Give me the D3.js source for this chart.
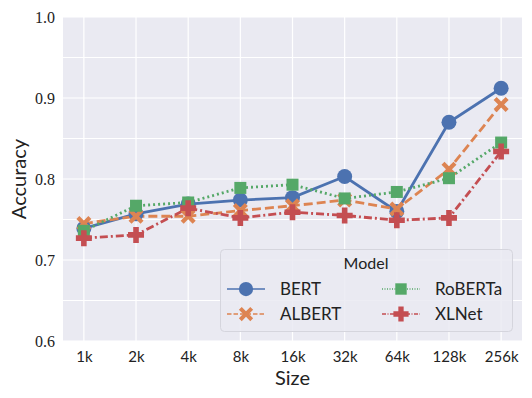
<!DOCTYPE html>
<html lang="en">
  <head>
    <meta charset="UTF-8">
    <title>Accuracy by size</title>
    <style>
      body { margin: 0; background: #fff; }
      svg text { fill: #222; }
      .xtick { font-family: Lato, sans-serif; font-size: 15px; }
      .ytick { font-family: 'Liberation Serif', serif; font-size: 16px; }
      .label { font-family: Lato, sans-serif; font-size: 20px; }
      .legend { font-family: Lato, sans-serif; font-size: 17px; }
    </style>
  </head>
  <body>
    <div id="chart"></div>
    <script src="https://cdnjs.cloudflare.com/ajax/libs/d3/7.8.5/d3.min.js"></script>
    <script>
      const sizes = ['1k', '2k', '4k', '8k', '16k', '32k', '64k', '128k', '256k'];
      const bert = [0.739, 0.757, 0.769, 0.774, 0.777, 0.803, 0.760, 0.870, 0.912];
      const albert = [0.745, 0.754, 0.754, 0.761, 0.767, 0.774, 0.763, 0.812, 0.892];
      const roberta = [0.736, 0.767, 0.771, 0.789, 0.793, 0.776, 0.784, 0.801, 0.845];
      const xlnet = [0.727, 0.731, 0.764, 0.752, 0.759, 0.755, 0.749, 0.752, 0.834];
      const yTicks = [0.6, 0.7, 0.8, 0.9, 1.0];
      const yGrid = [0.6, 0.65, 0.7, 0.75, 0.8, 0.85, 0.9, 0.95, 1.0];

      const series = [
        {name: 'BERT', values: bert, color: '#4c72b0', dash: null, marker: 'circle'},
        {name: 'ALBERT', values: albert, color: '#dd8452', dash: '9,4', marker: 'x'},
        {name: 'RoBERTa', values: roberta, color: '#55a868', dash: '2,3', marker: 'square'},
        {name: 'XLNet', values: xlnet, color: '#c44e52', dash: '8,3,2,3', marker: 'plus'}
      ];

      const width = 532, height = 398;
      const plot = {left: 63, right: 522, top: 17, bottom: 341};

      const svg = d3.select('#chart').append('svg')
        .attr('width', width)
        .attr('height', height);

      const x = d3.scaleLinear().domain([-0.4, sizes.length - 1 + 0.4]).range([plot.left, plot.right]);
      const y = d3.scaleLinear().domain([0.6, 1.0]).range([plot.bottom, plot.top]);

      svg.append('rect')
        .attr('x', plot.left).attr('y', plot.top)
        .attr('width', plot.right - plot.left).attr('height', plot.bottom - plot.top)
        .attr('fill', '#eaeaf2');

      // grid
      svg.append('g').selectAll('line').data(yGrid).join('line')
        .attr('x1', plot.left).attr('x2', plot.right)
        .attr('y1', d => y(d)).attr('y2', d => y(d))
        .attr('stroke', '#fff').attr('stroke-width', 1.2);
      svg.append('g').selectAll('line').data(sizes).join('line')
        .attr('x1', (d, i) => x(i)).attr('x2', (d, i) => x(i))
        .attr('y1', plot.top).attr('y2', plot.bottom)
        .attr('stroke', '#fff').attr('stroke-width', 1.2);

      // axes
      const xAxis = svg.append('g')
        .attr('transform', `translate(0,${plot.bottom})`)
        .call(d3.axisBottom(x).tickValues(d3.range(sizes.length)).tickFormat(i => sizes[i]).tickSize(0).tickPadding(10));
      xAxis.select('.domain').remove();
      xAxis.selectAll('text').attr('class', 'xtick').attr('font-family', null).attr('font-size', null);

      const yAxis = svg.append('g')
        .attr('transform', `translate(${plot.left},0)`)
        .call(d3.axisLeft(y).tickValues(yTicks).tickFormat(d3.format('.1f')).tickSize(0).tickPadding(8));
      yAxis.select('.domain').remove();
      yAxis.selectAll('text').attr('class', 'ytick').attr('font-family', null).attr('font-size', null);

      svg.append('text').attr('class', 'label')
        .attr('x', (plot.left + plot.right) / 2).attr('y', 385)
        .attr('text-anchor', 'middle').text('Size');
      svg.append('text').attr('class', 'label')
        .attr('transform', `translate(26,${(plot.top + plot.bottom) / 2}) rotate(-90)`)
        .attr('text-anchor', 'middle').text('Accuracy');

      const drawMarker = (g, type, color, s) => {
        if (type === 'circle') {
          g.append('circle').attr('r', 7.5 * s).attr('fill', color);
        } else if (type === 'square') {
          g.append('rect').attr('x', -6 * s).attr('y', -6 * s).attr('width', 12 * s).attr('height', 12 * s).attr('fill', color);
        } else if (type === 'x') {
          const a = 7.5 * s, b = 3 * s;
          g.append('path').attr('fill', color)
            .attr('d', `M${-a},${-a + b}L${-a + b},${-a}L0,${-b}L${a - b},${-a}L${a},${-a + b}L${b},0L${a},${a - b}L${a - b},${a}L0,${b}L${-a + b},${a}L${-a},${a - b}L${-b},0Z`);
        } else {
          const a = 8 * s, b = 2.8 * s;
          g.append('path').attr('fill', color)
            .attr('d', `M${-b},${-a}H${b}V${-b}H${a}V${b}H${b}V${a}H${-b}V${b}H${-a}V${-b}H${-b}Z`);
        }
      };

      const line = d3.line().x((d, i) => x(i)).y(d => y(d));

      series.forEach(s => {
        svg.append('path')
          .datum(s.values)
          .attr('d', line)
          .attr('fill', 'none')
          .attr('stroke', s.color)
          .attr('stroke-width', 2.8)
          .attr('stroke-dasharray', s.dash);
      });
      series.forEach(s => {
        s.values.forEach((v, i) => {
          const g = svg.append('g').attr('transform', `translate(${x(i)},${y(v)})`);
          drawMarker(g, s.marker, s.color, 1);
        });
      });

      // legend
      const lg = svg.append('g').attr('class', 'legend');
      lg.append('rect')
        .attr('x', 220.5).attr('y', 249.5).attr('width', 292).attr('height', 82)
        .attr('rx', 4).attr('fill', '#eaeaf2').attr('fill-opacity', 0.85)
        .attr('stroke', '#d5d5dd');
      lg.append('text').attr('x', 366).attr('y', 269).attr('text-anchor', 'middle').attr('font-size', 16).text('Model');
      const pos = [[227, 289], [227, 314], [382, 289], [382, 314]];
      series.forEach((s, i) => {
        const [lx, ly] = pos[i];
        lg.append('line')
          .attr('x1', lx).attr('x2', lx + 38).attr('y1', ly).attr('y2', ly)
          .attr('stroke', s.color).attr('stroke-width', 1.5)
          .attr('stroke-dasharray', s.dash ? s.dash.split(',').map(v => v / 2).join(',') : null);
        drawMarker(lg.append('g').attr('transform', `translate(${lx + 19},${ly})`), s.marker, s.color, 0.95);
        lg.append('text').attr('x', lx + 53).attr('y', ly + 6).text(s.name);
      });
    </script>
  </body>
</html>
